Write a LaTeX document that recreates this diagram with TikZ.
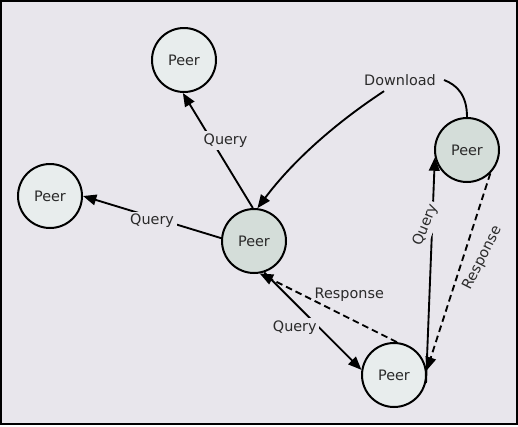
\documentclass[tikz,border=0pt]{standalone}
\usepackage{fontspec}
\setmainfont{DejaVu Sans}
\usetikzlibrary{arrows.meta}
\definecolor{bg}{HTML}{E8E6EC}
\definecolor{peerlight}{HTML}{E8EDED}
\definecolor{peerdark}{HTML}{D4DDD9}
\definecolor{txt}{HTML}{2A2A2A}
\begin{document}
\begin{tikzpicture}[x=0.75pt,y=-0.75pt,
  every node/.style={font=\fontsize{10.8}{13}\selectfont},
  peer/.style={circle,draw=black,line width=1.5pt,minimum size=48pt,inner sep=0pt,text=txt},
  lightpeer/.style={peer,fill=peerlight},
  darkpeer/.style={peer,fill=peerdark},
  conn/.style={line width=1.4pt,-{Triangle[length=10pt,width=8pt]}},
  plain/.style={line width=1.4pt},
  resp/.style={conn,dash pattern=on 5pt off 3pt},
  lbl/.style={text=txt,fill=bg,inner sep=2pt},
  rlbl/.style={text=txt,inner sep=2pt}]
\fill[white] (0,0) rectangle (518,426);
\draw[fill=bg,line width=1.2pt] (1,1) rectangle (517,424);
\useasboundingbox (0,0) rectangle (518,426);

\node[lightpeer] (tp) at (184,60) {Peer};
\node[lightpeer] (lp) at (50,196) {Peer};
\node[darkpeer] (c) at (254,241) {Peer};
\node[darkpeer] (ur) at (467,150) {Peer};
\node[lightpeer] (bp) at (394,375) {Peer};
\node[text=txt,inner xsep=6pt,inner ysep=4pt] (dl) at (400,80) {Download};

\draw[conn] (c.92) -- node[lbl,pos=0.59,xshift=10.5pt]{Query} (tp.-92);
\draw[conn] (c.175) -- node[lbl,midway,yshift=-3pt]{Query} (lp.east);
\draw[conn] (c.-72) -- node[lbl,pos=0.5,xshift=-13.5pt,yshift=-5pt]{Query} (bp.171);
\draw[resp] (bp.85) -- node[rlbl,pos=0.5,xshift=15.75pt,yshift=9.75pt]{Response} (c.-80);
\draw[conn] (bp.-14) -- node[lbl,pos=0.70,xshift=-5pt,rotate=68]{Query} (ur.193);
\draw[resp] (ur.-45) -- node[rlbl,pos=0.43,xshift=14.6pt,rotate=63]{Response} (bp.8);

\draw[plain] (ur.north) .. controls (467,95) and (457,85) .. (dl.east);
\draw[conn] (dl.215) .. controls (334,124) and (292,162) .. (c.84);
\end{tikzpicture}
\end{document}
